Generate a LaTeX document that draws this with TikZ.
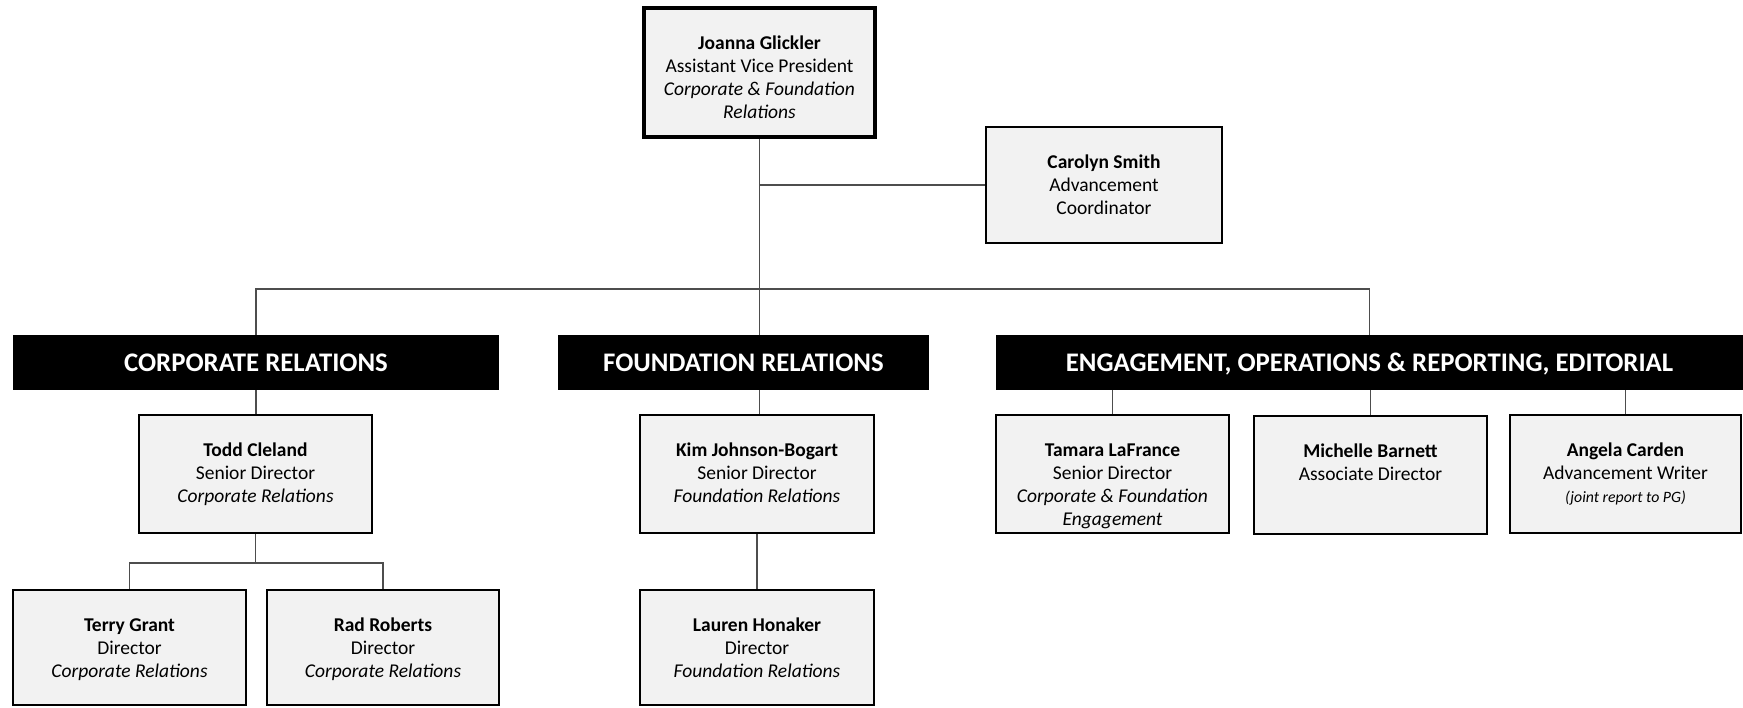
\documentclass[tikz,border=0pt]{standalone}
\usepackage{fontspec}
\setmainfont{Carlito}
\definecolor{cardfill}{HTML}{F2F2F2}
\definecolor{linegray}{HTML}{4D4D4D}
\newcommand{\cardtext}[3]{\parbox[t][#2][t]{#1}{\centering\rule{0pt}{41pt}#3}}
\tikzset{
  card/.style={draw=black, line width=2pt, fill=cardfill, inner sep=0pt, font=\fontsize{19.5}{23.3}\selectfont},
  topcard/.style={card, line width=3.5pt},
  band/.style={fill=black, text=white, inner sep=0pt, minimum height=55pt, text height=17.2pt, text depth=0pt, font=\fontsize{26.8}{31}\selectfont\bfseries},
  link/.style={draw=linegray, line width=1.2pt},
}
\begin{document}
\begin{tikzpicture}[x=1pt,y=-1pt]
\useasboundingbox (0,0) rectangle (1743,707);

\coordinate (bus) at (759.5,289);
\coordinate (tsub) at (255.5,563);

% top
\node[topcard] (joanna) at (759.5,72.5) {\cardtext{231pt}{129pt}{\textbf{Joanna Glickler}\\Assistant Vice President\\\textit{Corporate \& Foundation}\\\textit{Relations}}};
\node[card] (carolyn) at (1104,185) {\cardtext{236pt}{116pt}{\textbf{Carolyn Smith}\\Advancement\\Coordinator}};

% bands
\node[band, minimum width=486pt] (cr) at (256,362.5) {CORPORATE RELATIONS};
\node[band, minimum width=371pt] (fr) at (743.5,362.5) {FOUNDATION RELATIONS};
\node[band, minimum width=747pt] (eng) at (1369.5,362.5) {ENGAGEMENT, OPERATIONS \& REPORTING, EDITORIAL};

% corporate
\node[card] (todd) at (255.5,474) {\cardtext{233pt}{118pt}{\textbf{Todd Cleland}\\Senior Director\\\textit{Corporate Relations}}};
\node[card] (terry) at (129.5,647.5) {\cardtext{233pt}{115pt}{\textbf{Terry Grant}\\Director\\\textit{Corporate Relations}}};
\node[card] (rad) at (383,647.5) {\cardtext{232pt}{115pt}{\textbf{Rad Roberts}\\Director\\\textit{Corporate Relations}}};

% foundation
\node[card] (kim) at (757,474) {\cardtext{234pt}{118pt}{\textbf{Kim Johnson-Bogart}\\Senior Director\\\textit{Foundation Relations}}};
\node[card] (lauren) at (757,647.5) {\cardtext{234pt}{115pt}{\textbf{Lauren Honaker}\\Director\\\textit{Foundation Relations}}};

% engagement
\node[card] (tamara) at (1112.5,474) {\cardtext{233pt}{118pt}{\textbf{Tamara LaFrance}\\Senior Director\\\textit{Corporate \& Foundation}\\\textit{Engagement}}};
\node[card] (michelle) at (1370.5,475) {\cardtext{233pt}{118pt}{\textbf{Michelle Barnett}\\Associate Director}};
\node[card] (angela) at (1625.5,474) {\cardtext{231pt}{118pt}{\textbf{Angela Carden}\\Advancement Writer\\{\fontsize{15.8}{18}\selectfont\textit{(joint report to PG)}}}};

% links
\draw[link] (joanna.south) -- (joanna.south |- fr.north);
\draw[link] (joanna.south |- fr.south) -- (joanna.south |- kim.north);
\draw[link] (joanna.south |- carolyn.west) -- (carolyn.west);
\draw[link] (cr.north) |- (bus) -| (eng.north);
\draw[link] (cr.south) -- (cr.south |- todd.north);
\draw[link] (todd.south) -- (tsub);
\draw[link] (terry.north) |- (tsub) -| (rad.north);
\draw[link] (kim.south) -- (lauren.north);
\draw[link] (eng.south -| tamara.north) -- (tamara.north);
\draw[link] (eng.south -| michelle.north) -- (michelle.north);
\draw[link] (eng.south -| angela.north) -- (angela.north);
\end{tikzpicture}
\end{document}
